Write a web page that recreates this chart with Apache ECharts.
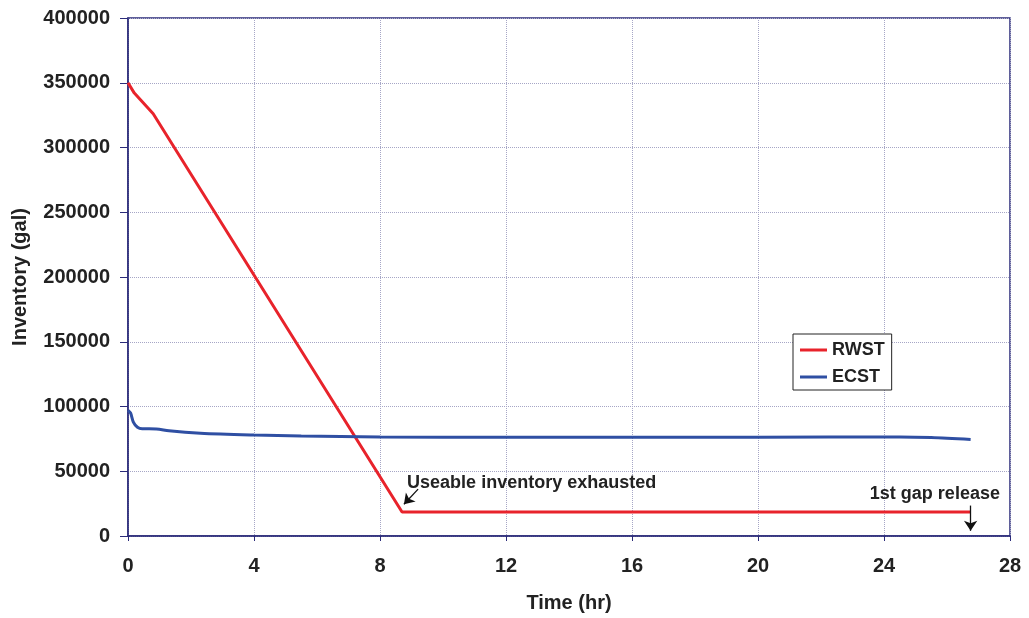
<!DOCTYPE html>
<html><head><meta charset="utf-8">
<script src="https://cdn.jsdelivr.net/npm/echarts@6/dist/echarts.min.js"></script>
<style>html,body{margin:0;padding:0;background:#fff}#c{width:1029px;height:618px}</style>
</head><body><div id="c"></div>
<script>
const xTicks = [0, 4, 8, 12, 16, 20, 24, 28];
const yTicks = [0, 50000, 100000, 150000, 200000, 250000, 300000, 350000, 400000];
const rwstTime = [0, 0.2, 0.8, 8.7, 26.75];
const rwstGal = [350000, 342000, 326000, 18500, 18500];
const ecstTime = [0, 0.08, 0.17, 0.3, 0.45, 0.9, 1.3, 2.3, 4, 5.5, 8, 12, 16, 20, 24.5, 25.5, 26.75];
const ecstGal = [97000, 95000, 88000, 84000, 82800, 82700, 81200, 79400, 78000, 77200, 76500, 76300, 76300, 76300, 76500, 76000, 74500];
const annotations = [
  {text: 'Useable inventory exhausted', at: [8.86, 41000], align: 'left'},
  {text: '1st gap release', at: [27.68, 32500], align: 'right'}
];
const arrows = [
  [[9.21, 36200], [8.76, 24500]],
  [[26.75, 23500], [26.75, 4000]]
];

const font = 'Liberation Sans, Arial, sans-serif';
const chart = echarts.init(document.getElementById('c'));
chart.setOption({
  animation: false,
  backgroundColor: '#fff',
  grid: {left: 128, right: 19, top: 18, bottom: 81, show: true, borderColor: '#2b2b7a', borderWidth: 1.5},
  legend: {
    left: 793, top: 334, orient: 'vertical', itemWidth: 27, itemHeight: 3, itemGap: 9,
    padding: [7, 7, 4, 7],
    borderColor: '#222', borderWidth: 1, backgroundColor: '#fff',
    textStyle: {fontFamily: font, fontWeight: 'bold', fontSize: 18, color: '#222'},
    icon: 'rect',
    data: ['RWST', 'ECST']
  },
  xAxis: {
    type: 'value', min: 0, max: 28, interval: 4,
    name: 'Time (hr)', nameLocation: 'middle', nameGap: 57,
    nameTextStyle: {fontFamily: font, fontWeight: 'bold', fontSize: 20, color: '#222'},
    axisLine: {lineStyle: {color: '#2b2b7a', width: 1.5}},
    axisTick: {show: true, length: 5, lineStyle: {color: '#2b2b7a'}},
    axisLabel: {fontFamily: font, fontWeight: 'bold', fontSize: 20, color: '#222', margin: 20,
      formatter: v => xTicks.includes(v) ? String(v) : ''},
    splitLine: {show: true, lineStyle: {color: '#a6a6c6', type: 'dotted', width: 1}}
  },
  yAxis: {
    type: 'value', min: 0, max: 400000, interval: 50000,
    name: 'Inventory (gal)', nameLocation: 'middle', nameGap: 98,
    nameTextStyle: {fontFamily: font, fontWeight: 'bold', fontSize: 20, color: '#222'},
    axisLine: {show: true, lineStyle: {color: '#2b2b7a', width: 1.5}},
    axisTick: {show: true, length: 8, lineStyle: {color: '#2b2b7a'}},
    axisLabel: {fontFamily: font, fontWeight: 'bold', fontSize: 20, color: '#222', margin: 18,
      formatter: v => yTicks.includes(v) ? String(v) : ''},
    splitLine: {show: true, lineStyle: {color: '#a6a6c6', type: 'dotted', width: 1}}
  },
  series: [
    {
      name: 'RWST', type: 'line', showSymbol: false, symbol: 'none',
      data: rwstTime.map((t, i) => [t, rwstGal[i]]),
      lineStyle: {color: '#e8232b', width: 3}, itemStyle: {color: '#e8232b'},
      markPoint: {
        symbol: 'circle', symbolSize: 0, silent: true,
        data: annotations.map(a => ({coord: a.at, value: a.text,
          label: {show: true, formatter: a.text, position: a.align === 'left' ? 'right' : 'left', distance: 0,
            fontFamily: font, fontWeight: 'bold', fontSize: 18, color: '#222'}}))
      },
      markLine: {
        silent: true, symbol: ['none', 'arrow'], symbolSize: 10,
        lineStyle: {color: '#111', width: 1.3, type: 'solid'},
        label: {show: false},
        data: arrows.map(a => [{coord: a[0]}, {coord: a[1]}])
      }
    },
    {
      name: 'ECST', type: 'line', showSymbol: false, symbol: 'none', smooth: 0.3,
      data: ecstTime.map((t, i) => [t, ecstGal[i]]),
      lineStyle: {color: '#2f4fa3', width: 3}, itemStyle: {color: '#2f4fa3'}
    }
  ]
});
</script></body></html>
